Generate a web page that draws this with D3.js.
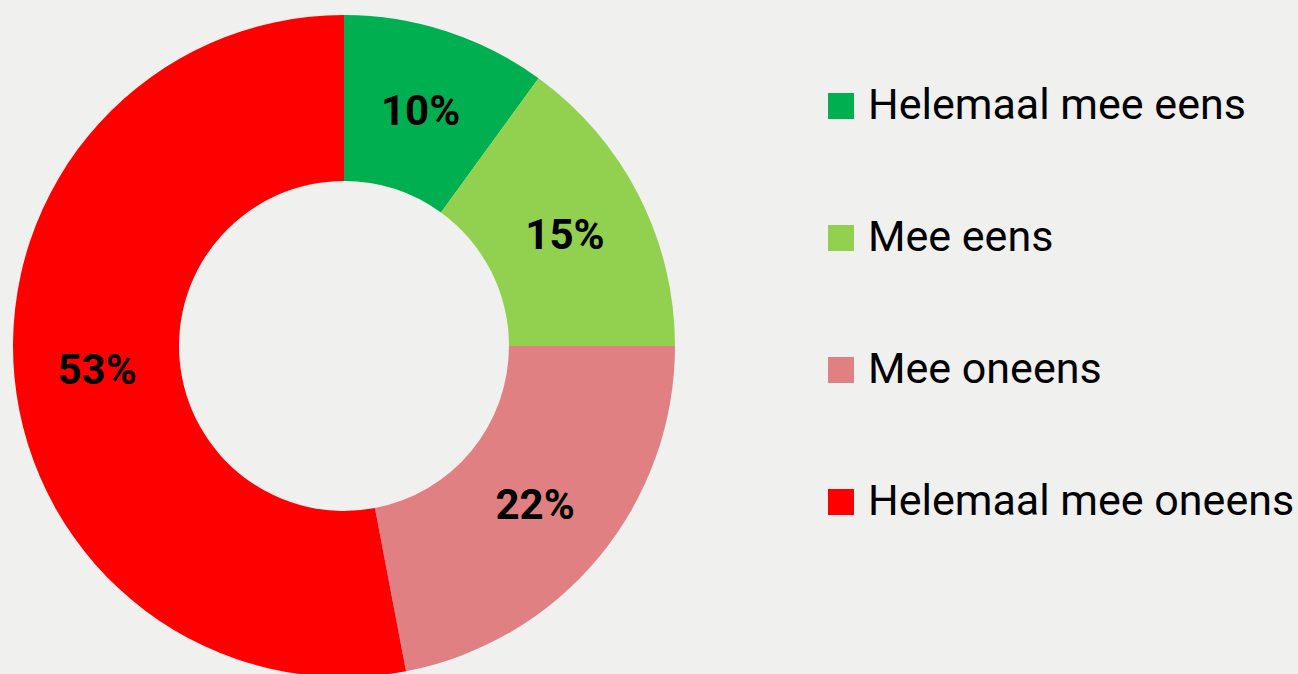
<!DOCTYPE html>
<html>
<head>
<meta charset="utf-8">
<script src="https://cdn.jsdelivr.net/npm/d3@7"></script>
<style>
  body { margin: 0; background: #f0f0ee; }
  svg { display: block; font-family: Roboto, sans-serif; }
</style>
</head>
<body>
<div id="chart"></div>
<script>
// data
var categories = ["Helemaal mee eens", "Mee eens", "Mee oneens", "Helemaal mee oneens"]
var values = [10, 15, 22, 53]
var colors = ["#00b050", "#92d050", "#e08083", "#ff0000"]

var width = 1298, height = 674
var cx = 344, cy = 346
var outerR = 331, innerR = 165

var svg = d3.select("#chart").append("svg")
  .attr("width", width)
  .attr("height", height)

svg.append("rect")
  .attr("width", width).attr("height", height)
  .attr("fill", "#f0f0ee")

var pie = d3.pie().sort(null).value(d => d)
var arcs = pie(values)

var arc = d3.arc().innerRadius(innerR).outerRadius(outerR)
var labelArc = d3.arc().innerRadius((innerR + outerR) / 2).outerRadius((innerR + outerR) / 2)

var g = svg.append("g")
  .attr("transform", "translate(" + cx + "," + cy + ")")

g.selectAll("path")
  .data(arcs)
  .enter().append("path")
    .attr("d", arc)
    .attr("fill", (d, i) => colors[i])

g.selectAll("text")
  .data(arcs)
  .enter().append("text")
    .attr("transform", d => "translate(" + labelArc.centroid(d) + ")")
    .attr("text-anchor", "middle")
    .attr("dy", "0.36em")
    .style("font-size", "42px")
    .style("font-weight", "bold")
    .style("fill", "#000")
    .text(d => d.data + "%")

// legend
var legendY = d3.scalePoint().domain(categories).range([106, 502])

var legend = svg.append("g").selectAll("g")
  .data(categories)
  .enter().append("g")
    .attr("transform", d => "translate(828," + legendY(d) + ")")

legend.append("rect")
  .attr("x", 0).attr("y", -13)
  .attr("width", 26).attr("height", 26)
  .attr("fill", (d, i) => colors[i])

legend.append("text")
  .attr("x", 40)
  .attr("y", 13)
  .style("font-size", "43px")
  .style("fill", "#000")
  .text(d => d)
</script>
</body>
</html>
